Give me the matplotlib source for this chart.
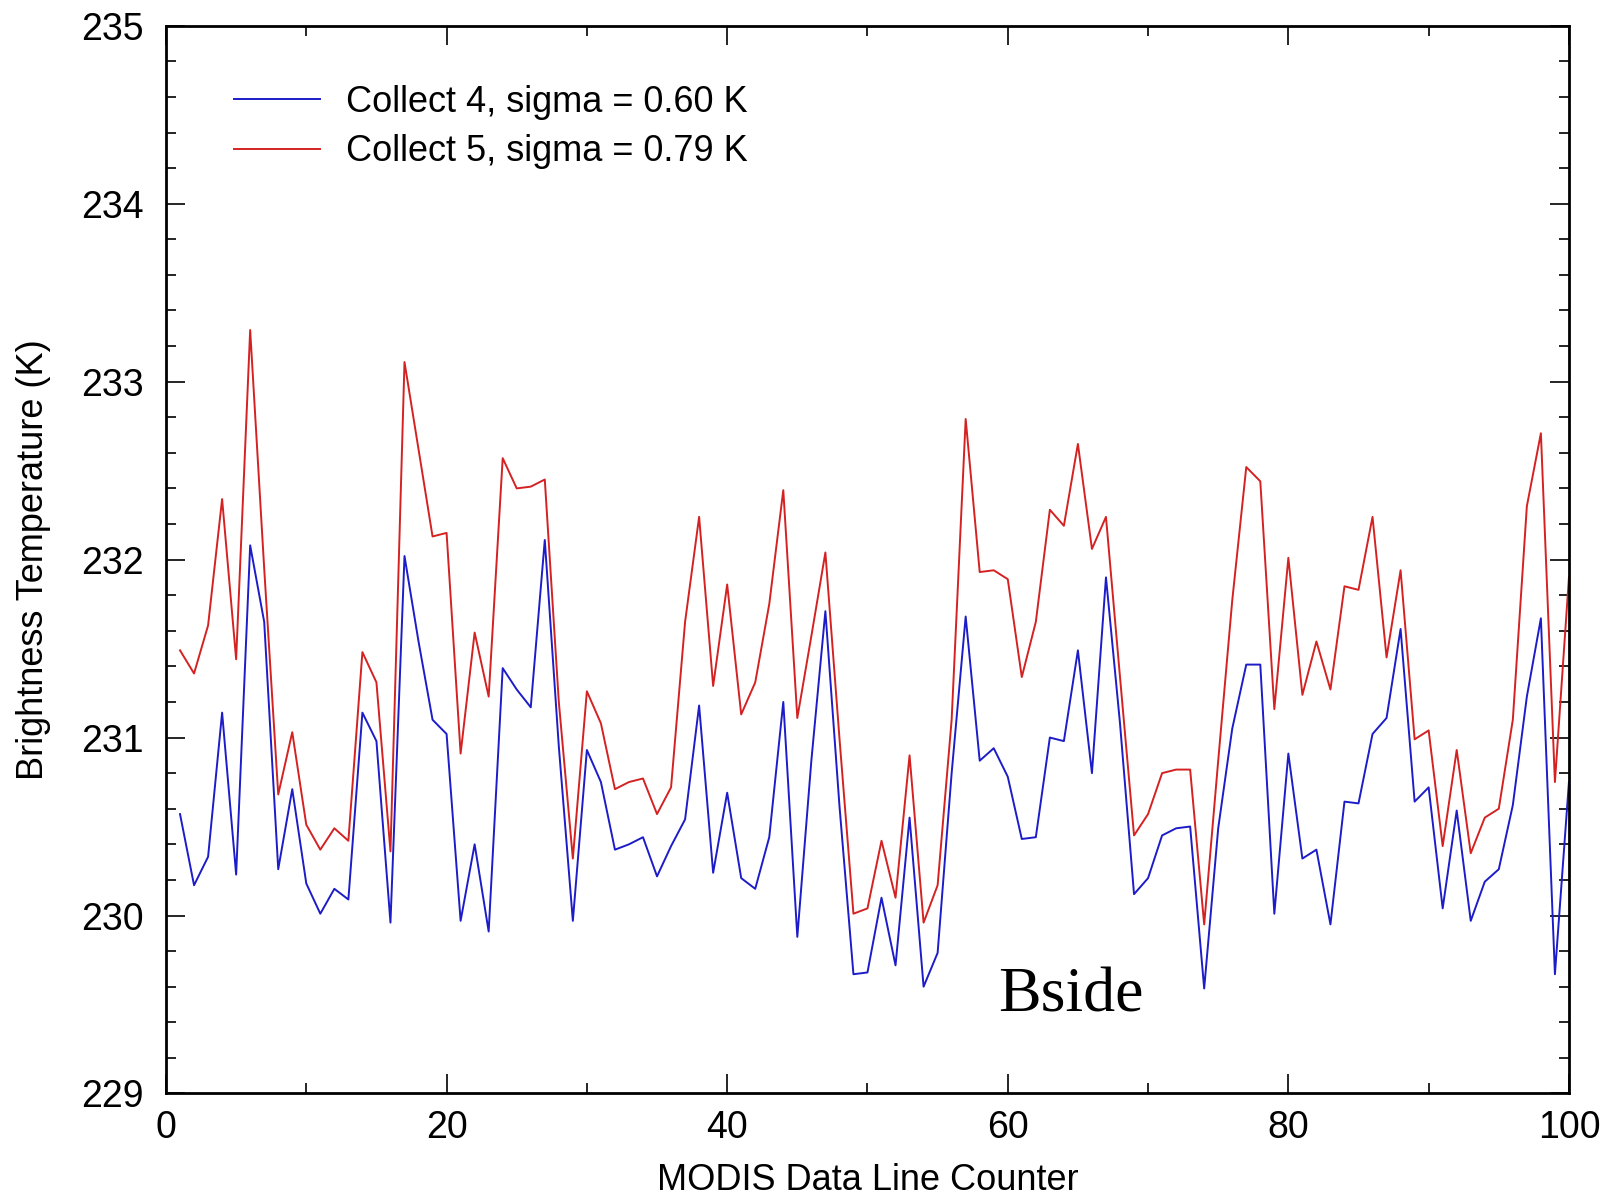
import numpy as np
import matplotlib
matplotlib.use("Agg")
import matplotlib.pyplot as plt
from matplotlib.ticker import MultipleLocator

# Zaehler der Datenzeilen
line_counter = np.arange(1, 101)

# Collect 4 (blau)
collect4 = [
    230.57, 230.17, 230.33, 231.14, 230.23, 232.08, 231.65, 230.26, 230.71, 230.18,
    230.01, 230.15, 230.09, 231.14, 230.98, 229.96, 232.02, 231.54, 231.10, 231.02,
    229.97, 230.40, 229.91, 231.39, 231.27, 231.17, 232.11, 230.95, 229.97, 230.93,
    230.75, 230.37, 230.40, 230.44, 230.22, 230.39, 230.54, 231.18, 230.24, 230.69,
    230.21, 230.15, 230.44, 231.20, 229.88, 230.87, 231.71, 230.62, 229.67, 229.68,
    230.10, 229.72, 230.55, 229.60, 229.79, 230.80, 231.68, 230.87, 230.94, 230.78,
    230.43, 230.44, 231.00, 230.98, 231.49, 230.80, 231.90, 231.08, 230.12, 230.21,
    230.45, 230.49, 230.50, 229.59, 230.49, 231.05, 231.41, 231.41, 230.01, 230.91,
    230.32, 230.37, 229.95, 230.64, 230.63, 231.02, 231.11, 231.61, 230.64, 230.72,
    230.04, 230.59, 229.97, 230.19, 230.26, 230.62, 231.23, 231.67, 229.67, 230.75,
]

# Collect 5 (rot)
collect5 = [
    231.49, 231.36, 231.63, 232.34, 231.44, 233.29, 231.95, 230.68, 231.03, 230.51,
    230.37, 230.49, 230.42, 231.48, 231.31, 230.36, 233.11, 232.62, 232.13, 232.15,
    230.91, 231.59, 231.23, 232.57, 232.40, 232.41, 232.45, 231.20, 230.32, 231.26,
    231.08, 230.71, 230.75, 230.77, 230.57, 230.72, 231.65, 232.24, 231.29, 231.86,
    231.13, 231.31, 231.75, 232.39, 231.11, 231.57, 232.04, 231.00, 230.01, 230.04,
    230.42, 230.10, 230.90, 229.96, 230.17, 231.10, 232.79, 231.93, 231.94, 231.89,
    231.34, 231.65, 232.28, 232.19, 232.65, 232.06, 232.24, 231.34, 230.45, 230.57,
    230.80, 230.82, 230.82, 229.95, 230.87, 231.77, 232.52, 232.44, 231.16, 232.01,
    231.24, 231.54, 231.27, 231.85, 231.83, 232.24, 231.45, 231.94, 230.99, 231.04,
    230.39, 230.93, 230.35, 230.55, 230.60, 231.10, 232.30, 232.71, 230.75, 231.90,
]

label4 = "Collect 4, sigma = 0.60 K"
label5 = "Collect 5, sigma = 0.79 K"

plt.rcParams['font.family'] = ['Liberation Sans', 'DejaVu Sans']

fig = plt.figure(figsize=(16.1, 11.97), dpi=100)
ax = fig.add_axes([0.1031, 0.0865, 0.8714, 0.892])

ax.plot(line_counter, collect4, color='#1c1cc8', lw=1.4, label=label4)
ax.plot(line_counter, collect5, color='#d42222', lw=1.4, label=label5)

ax.set_xlim(0, 100)
ax.set_ylim(229, 235)
ax.xaxis.set_major_locator(MultipleLocator(20))
ax.xaxis.set_minor_locator(MultipleLocator(10))
ax.yaxis.set_major_locator(MultipleLocator(1))
ax.yaxis.set_minor_locator(MultipleLocator(0.2))
ax.tick_params(which='both', direction='in', top=True, right=True, width=1.2)
ax.tick_params(which='major', length=14, labelsize=27)
ax.tick_params(axis='y', which='major', pad=16)
ax.tick_params(axis='x', which='major', pad=12)
ax.tick_params(which='minor', length=7)
for s in ax.spines.values():
    s.set_linewidth(2)

ax.set_xlabel("MODIS Data Line Counter", fontsize=26, labelpad=12)
ax.set_ylabel("Brightness Temperature (K)", fontsize=26, labelpad=22)

ax.legend(loc='upper left', frameon=False, fontsize=26, handlelength=2.4,
          handletextpad=0.7, labelspacing=0.4, bbox_to_anchor=(0.025, 0.975))

ax.text(59.3, 229.46, "Bside", fontsize=46, family=['Liberation Serif', 'DejaVu Serif'])

fig.savefig("out.png", dpi=100)
